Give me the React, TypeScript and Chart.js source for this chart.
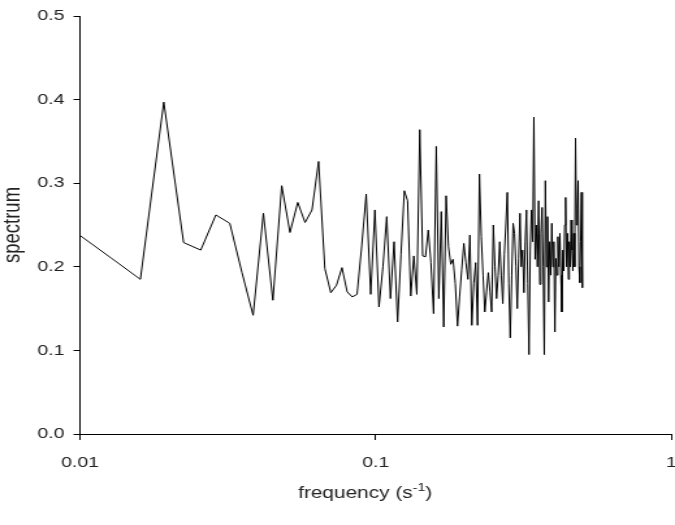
import React, { useEffect, useRef } from "react";
import { Chart, registerables } from "chart.js";

Chart.register(...registerables);

// Frequencies (s^-1) of the spectrum points
const frequencies: number[] = [
  0.0096, 0.0128, 0.016, 0.0192, 0.0224, 0.0256, 0.0288, 0.0321, 0.0353, 0.0385,
  0.0417, 0.0449, 0.0481, 0.0513, 0.0545, 0.0577, 0.0609, 0.0641, 0.0673, 0.0705,
  0.0737, 0.0769, 0.0801, 0.0833, 0.0865, 0.0897, 0.0929, 0.0962, 0.0994, 0.1026,
  0.1058, 0.109, 0.1122, 0.1154, 0.1186, 0.1218, 0.125, 0.1282, 0.1314, 0.1346,
  0.1378, 0.141, 0.1442, 0.1474, 0.1506, 0.1538, 0.157, 0.1603, 0.1635, 0.1667,
  0.1699, 0.1731, 0.1763, 0.1795, 0.1827, 0.1859, 0.1891, 0.1923, 0.1955, 0.1987,
  0.2019, 0.2051, 0.2083, 0.2115, 0.2147, 0.2179, 0.2211, 0.2244, 0.2276, 0.2308,
  0.234, 0.2372, 0.2404, 0.2436, 0.2468, 0.25, 0.2532, 0.2564, 0.2596, 0.2628,
  0.266, 0.2692, 0.2724, 0.2756, 0.2788, 0.282, 0.2852, 0.2885, 0.2917, 0.2949,
  0.2981, 0.3013, 0.3045, 0.3077, 0.3109, 0.3141, 0.3173, 0.3205, 0.3237, 0.3269,
  0.3301, 0.3333, 0.3365, 0.3397, 0.3429, 0.3461, 0.3493, 0.3526, 0.3558, 0.359,
  0.3622, 0.3654, 0.3686, 0.3718, 0.375, 0.3782, 0.3814, 0.3846, 0.3878, 0.391,
  0.3942, 0.3974, 0.4006, 0.4038, 0.407, 0.4102, 0.4134, 0.4167, 0.4199, 0.4231,
  0.4263, 0.4295, 0.4327, 0.4359, 0.4391, 0.4423, 0.4455, 0.4487, 0.4519, 0.4551,
  0.4583, 0.4615, 0.4647, 0.4679, 0.4711, 0.4743, 0.4775, 0.4808, 0.484, 0.4872,
  0.4904, 0.4936, 0.4968, 0.5,
];

// Spectrum values at each frequency
const spectrum: number[] = [
  0.242, 0.21, 0.185, 0.397, 0.229, 0.22, 0.262, 0.252, 0.193, 0.142,
  0.264, 0.16, 0.297, 0.241, 0.277, 0.253, 0.268, 0.326, 0.198, 0.169,
  0.178, 0.199, 0.17, 0.164, 0.167, 0.225, 0.287, 0.167, 0.268, 0.152,
  0.2, 0.26, 0.162, 0.23, 0.134, 0.215, 0.291, 0.279, 0.165, 0.213,
  0.167, 0.364, 0.213, 0.212, 0.244, 0.205, 0.144, 0.344, 0.162, 0.266,
  0.128, 0.285, 0.224, 0.203, 0.209, 0.18, 0.129, 0.165, 0.197, 0.228,
  0.205, 0.185, 0.238, 0.13, 0.18, 0.205, 0.13, 0.311, 0.236, 0.19,
  0.146, 0.17, 0.193, 0.17, 0.146, 0.25, 0.2, 0.162, 0.19, 0.23,
  0.19, 0.156, 0.215, 0.25, 0.289, 0.18, 0.115, 0.19, 0.252, 0.24,
  0.2, 0.15, 0.21, 0.264, 0.2, 0.22, 0.169, 0.23, 0.268, 0.18,
  0.095, 0.22, 0.268, 0.23, 0.379, 0.209, 0.25, 0.2, 0.279, 0.179,
  0.24, 0.271, 0.2, 0.095, 0.303, 0.2, 0.26, 0.158, 0.23, 0.19,
  0.252, 0.2, 0.23, 0.122, 0.21, 0.19, 0.236, 0.2, 0.24, 0.19,
  0.146, 0.22, 0.195, 0.25, 0.283, 0.2, 0.24, 0.185, 0.23, 0.2,
  0.256, 0.22, 0.195, 0.24, 0.2, 0.354, 0.25, 0.27, 0.303, 0.2,
  0.181, 0.23, 0.289, 0.175,
];

const xTickValues: number[] = [0.01, 0.1, 1];
const yTickValues: number[] = [0, 0.1, 0.2, 0.3, 0.4, 0.5];
const xTitleMain = "frequency (s";
const xTitleSup = "-1";
const xTitleEnd = ")";
const yTitle = "spectrum";

const FONT = "'Liberation Sans', Arial, sans-serif";
// The reference image is horizontally stretched; draw at a narrower width and stretch.
const OUT_W = 675;
const H = 525;
const STRETCH = 1.3;
const W = Math.round(OUT_W / STRETCH);

const xTitlePlugin = {
  id: "xTitleSup",
  afterDraw(chart: any) {
    const ctx = chart.ctx as CanvasRenderingContext2D;
    ctx.save();
    ctx.fillStyle = "#222";
    ctx.textBaseline = "alphabetic";
    ctx.textAlign = "left";
    const mainFont = `16px ${FONT}`;
    const supFont = `11px ${FONT}`;
    ctx.font = mainFont;
    const w1 = ctx.measureText(xTitleMain).width;
    const w3 = ctx.measureText(xTitleEnd).width;
    ctx.font = supFont;
    const w2 = ctx.measureText(xTitleSup).width;
    const total = w1 + w2 + w3;
    const cx = 365 / STRETCH;
    const baseY = 498;
    let x = cx - total / 2;
    ctx.font = mainFont;
    ctx.fillText(xTitleMain, x, baseY);
    x += w1;
    ctx.font = supFont;
    ctx.fillText(xTitleSup, x, baseY - 7);
    x += w2;
    ctx.font = mainFont;
    ctx.fillText(xTitleEnd, x, baseY);
    ctx.restore();
  },
};

export default function App() {
  const canvasRef = useRef<HTMLCanvasElement | null>(null);

  useEffect(() => {
    if (!canvasRef.current) return;
    const points = frequencies.map((f, i) => ({ x: f, y: spectrum[i] }));
    const chart = new Chart(canvasRef.current, {
      type: "line",
      data: {
        datasets: [
          {
            data: points,
            borderColor: "#000",
            borderWidth: 1,
            pointRadius: 0,
            tension: 0,
            fill: false,
          },
        ],
      },
      options: {
        animation: false,
        responsive: false,
        maintainAspectRatio: false,
        layout: { padding: { left: 0, right: W - 671 / STRETCH, top: 9, bottom: 0 } },
        plugins: {
          legend: { display: false },
          tooltip: { enabled: false },
        },
        scales: {
          x: {
            type: "logarithmic",
            min: 0.01,
            max: 1,
            afterBuildTicks: (scale: any) => {
              scale.ticks = xTickValues.map((v) => ({ value: v }));
            },
            afterFit: (scale: any) => {
              scale.height = 91;
              scale.paddingLeft = 0;
              scale.paddingRight = 0;
            },
            ticks: {
              autoSkip: false,
              maxRotation: 0,
              padding: 14,
              color: "#222",
              font: { family: FONT, size: 15 },
              callback: (v: any) => String(v),
            },
            grid: {
              display: true,
              drawOnChartArea: false,
              drawTicks: true,
              tickLength: 6,
              color: "#000",
            },
            border: { display: true, color: "#000", width: 1 },
          },
          y: {
            type: "linear",
            min: 0,
            max: 0.5,
            afterBuildTicks: (scale: any) => {
              scale.ticks = yTickValues.map((v) => ({ value: v }));
            },
            afterFit: (scale: any) => {
              scale.width = 80 / STRETCH;
            },
            ticks: {
              padding: 7,
              color: "#222",
              font: { family: FONT, size: 15 },
              callback: (v: any) => Number(v).toFixed(1),
            },
            grid: {
              display: true,
              drawOnChartArea: false,
              drawTicks: true,
              tickLength: 5,
              color: "#000",
            },
            border: { display: true, color: "#000", width: 1 },
            title: {
              display: true,
              text: yTitle,
              color: "#222",
              font: { family: FONT, size: 18.5, lineHeight: 1 },
              padding: { top: 1, bottom: 0 },
            },
          },
        },
      },
      plugins: [xTitlePlugin],
    });
    return () => chart.destroy();
  }, []);

  return (
    <div
      style={{
        position: "fixed",
        left: 0,
        top: 0,
        width: OUT_W,
        height: H,
        background: "#fff",
        overflow: "hidden",
      }}
    >
      <div
        style={{
          width: W,
          height: H,
          transform: `scaleX(${OUT_W / W})`,
          transformOrigin: "0 0",
        }}
      >
        <canvas ref={canvasRef} width={W} height={H} style={{ width: W, height: H, display: "block" }} />
      </div>
    </div>
  );
}
